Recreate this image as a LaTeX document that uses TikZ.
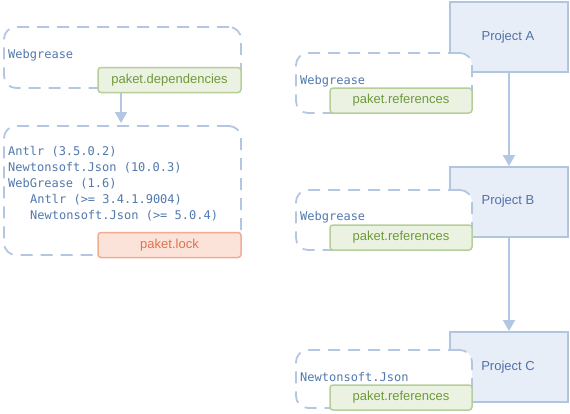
\documentclass[tikz,border=0pt]{standalone}
\usepackage{fontspec}
\setmainfont{Liberation Sans}
\setmonofont{DejaVu Sans Mono}
\usetikzlibrary{arrows.meta}
\definecolor{dashblue}{HTML}{B4C7E2}
\definecolor{projfill}{HTML}{E8EEF8}
\definecolor{projline}{HTML}{B0C5E2}
\definecolor{projtext}{HTML}{4F72A8}
\definecolor{codetext}{HTML}{5279AE}
\definecolor{greenfill}{HTML}{EBF2E2}
\definecolor{greenline}{HTML}{B6CF9A}
\definecolor{greentext}{HTML}{6F9A3C}
\definecolor{lockfill}{HTML}{FBE3DA}
\definecolor{lockline}{HTML}{F0AC95}
\definecolor{locktext}{HTML}{E0724F}
\tikzset{
  proj/.style={draw=projline, fill=projfill, line width=1.8pt, inner sep=0pt},
  ptext/.style={text=projtext, font=\fontsize{13}{15}\selectfont, inner sep=0pt},
  dbox/.style={draw=dashblue, fill=white, line width=1.8pt, rounded corners=12pt,
    dash pattern=on 12pt off 8pt, inner sep=0pt},
  gbox/.style={draw=greenline, fill=greenfill, line width=1.5pt, rounded corners=3pt,
    text=greentext, font=\fontsize{13}{15}\selectfont, inner sep=0pt},
  lbox/.style={draw=lockline, fill=lockfill, line width=1.5pt, rounded corners=3pt,
    text=locktext, font=\fontsize{13}{15}\selectfont, inner sep=0pt},
  code/.style={text=codetext, font=\ttfamily\fontsize{12}{16}\selectfont, inner sep=0pt,
    anchor=west, align=left},
  conn/.style={draw=dashblue, line width=1.8pt, -{Triangle[width=12pt,length=11pt]}}
}
\begin{document}
\begin{tikzpicture}[x=1pt,y=-1pt]
\useasboundingbox (0,0) rectangle (570,413);
% left side
\node[dbox, minimum width=237pt, minimum height=61pt] (d1) at (122.5,57.5) {};
\node[code] (t1) at (8,55) {Webgrease};
\node[gbox, minimum width=143pt, minimum height=25pt] (g1) at (169.5,80) {paket.dependencies};
\node[dbox, minimum width=237pt, minimum height=129pt] (d2) at (122.5,190.5) {};
\node[code, anchor=north west] (t2) at (8,146) {Antlr (3.5.0.2)\\Newtonsoft.Json (10.0.3)\\WebGrease (1.6)\\\hspace*{22pt}Antlr (>= 3.4.1.9004)\\\hspace*{22pt}Newtonsoft.Json (>= 5.0.4)};
\node[lbox, minimum width=143pt, minimum height=25pt] (l1) at (169.5,245) {paket.lock};
\coordinate (a1s) at (121,93);
\coordinate (a1e) at (121,123);
\draw[conn] (a1s) -- (a1e);
% right side: project boxes
\node[proj, minimum width=118pt, minimum height=70pt] (pa) at (509,37) {};
\node[proj, minimum width=118pt, minimum height=70pt] (pb) at (509,202) {};
\node[proj, minimum width=118pt, minimum height=70pt] (pc) at (509,367) {};
\node[ptext] (la) at (508,37) {Project A};
\node[ptext] (lb) at (508,201) {Project B};
\node[ptext] (lc) at (508,367) {Project C};
\draw[conn] (pa.south) -- (pb.north);
\draw[conn] (pb.south) -- (pc.north);
% dashed reference boxes
\node[dbox, minimum width=176pt, minimum height=60pt] (ra) at (384,83) {};
\node[code] (ta) at (300,81) {Webgrease};
\node[gbox, minimum width=142pt, minimum height=25pt] (ga) at (401,100.5) {paket.references};
\node[dbox, minimum width=176pt, minimum height=60pt] (rb) at (384,220) {};
\node[code] (tb) at (300,217) {Webgrease};
\node[gbox, minimum width=142pt, minimum height=25pt] (gb) at (401,237.5) {paket.references};
\node[dbox, minimum width=176pt, minimum height=58pt] (rc) at (384,379) {};
\node[code] (tc) at (300,377) {Newtonsoft.Json};
\node[gbox, minimum width=142pt, minimum height=25pt] (gc) at (401,397.5) {paket.references};
\end{tikzpicture}
\end{document}
